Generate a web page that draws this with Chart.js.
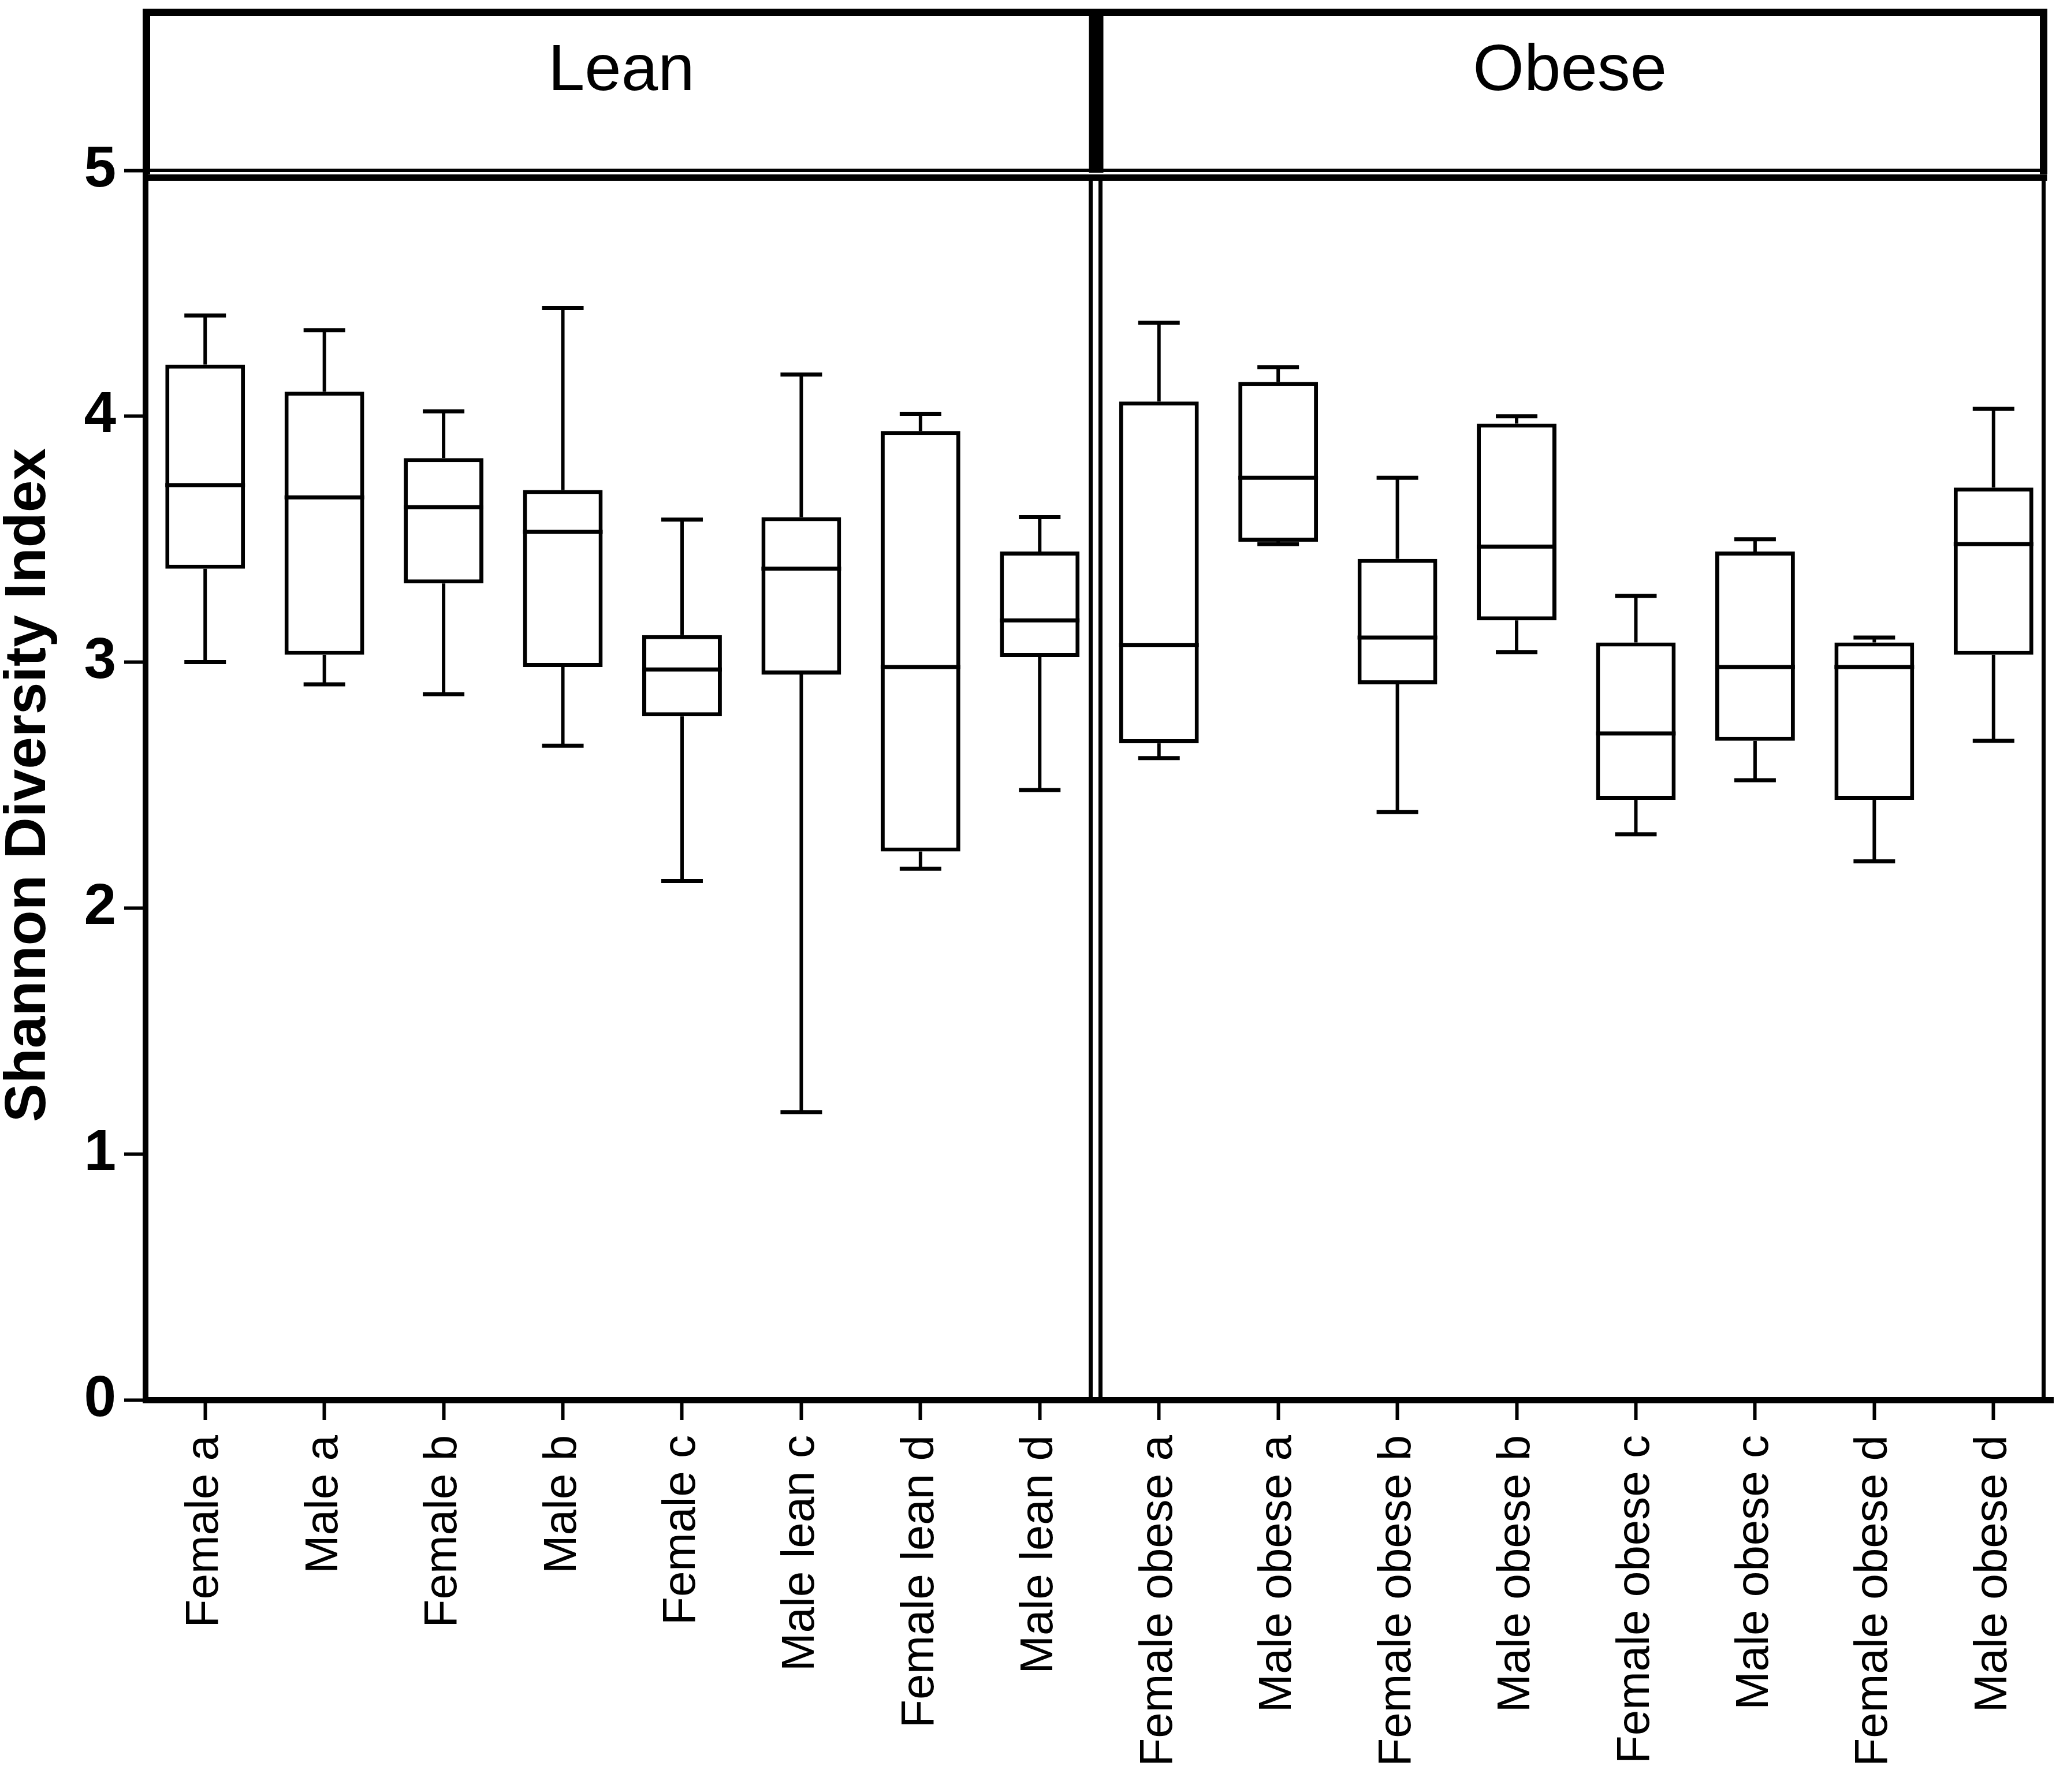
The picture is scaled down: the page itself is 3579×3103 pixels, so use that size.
<!DOCTYPE html>
<html>
<head>
<meta charset="utf-8">
<title>Shannon Diversity Index</title>
<script src="https://cdn.jsdelivr.net/npm/chart.js@4.4.1/dist/chart.umd.min.js"></script>
<style>
  body { margin: 0; background: #fff; }
  #grafica { display: block; }
</style>
</head>
<body>
<canvas id="grafica" width="3579" height="3103"></canvas>
<script>
// datos
const categorias = [
  "Female a", "Male a", "Female b", "Male b", "Female c", "Male lean c", "Female lean d", "Male lean d",
  "Female obese a", "Male obese a", "Female obese b", "Male obese b", "Female obese c", "Male obese c", "Female obese d", "Male obese d"
];
const paneles = ["Lean", "Obese"];
const minimos  = [3.00, 2.91, 2.87, 2.66, 2.11, 1.17, 2.16, 2.48, 2.61, 3.48, 2.39, 3.04, 2.30, 2.52, 2.19, 2.68];
const q1       = [3.38, 3.03, 3.32, 2.98, 2.78, 2.95, 2.23, 3.02, 2.67, 3.49, 2.91, 3.17, 2.44, 2.68, 2.44, 3.03];
const medianas = [3.72, 3.67, 3.63, 3.53, 2.97, 3.38, 2.98, 3.17, 3.07, 3.75, 3.10, 3.47, 2.71, 2.98, 2.98, 3.48];
const q3       = [4.21, 4.10, 3.83, 3.70, 3.11, 3.59, 3.94, 3.45, 4.06, 4.14, 3.42, 3.97, 3.08, 3.45, 3.08, 3.71];
const maximos  = [4.41, 4.35, 4.02, 4.44, 3.58, 4.17, 4.01, 3.59, 4.38, 4.20, 3.75, 4.00, 3.27, 3.50, 3.10, 4.03];
const ticksY = [0, 1, 2, 3, 4, 5];

const fuente = '"Liberation Sans", Arial, sans-serif';

const linea = (ctx, x1, y1, x2, y2, w) => {
  ctx.lineWidth = w;
  ctx.beginPath();
  ctx.moveTo(x1, y1);
  ctx.lineTo(x2, y2);
  ctx.stroke();
};

// bigotes y mediana de cada caja
const bigotes = {
  id: "bigotes",
  afterDatasetsDraw(chart) {
    const { ctx, scales: { x, y } } = chart;
    const meta = chart.getDatasetMeta(0);
    ctx.save();
    ctx.strokeStyle = "#000";
    categorias.forEach((c, i) => {
      const cx = x.getPixelForValue(i);
      const half = meta.data[i].width / 2;
      const cap = 36;
      const yMax = y.getPixelForValue(maximos[i]);
      const yMin = y.getPixelForValue(minimos[i]);
      const yQ1 = y.getPixelForValue(q1[i]);
      const yQ3 = y.getPixelForValue(q3[i]);
      const yMed = y.getPixelForValue(medianas[i]);
      linea(ctx, cx, yQ3, cx, yMax, 6);
      linea(ctx, cx - cap, yMax, cx + cap, yMax, 7);
      linea(ctx, cx, yQ1, cx, yMin, 6);
      linea(ctx, cx - cap, yMin, cx + cap, yMin, 7);
      linea(ctx, cx - half, yMed, cx + half, yMed, 7);
    });
    ctx.restore();
  }
};

// cabeceras Lean / Obese y marco del panel
const marcos = {
  id: "marcos",
  afterDraw(chart) {
    const { ctx, chartArea } = chart;
    const izq = chartArea.left + 1.5;
    const der = chartArea.right - 16.5;
    const div = 1898;
    const arriba = 21.5;
    const top = chartArea.top;
    const bottom = chartArea.bottom;
    ctx.save();
    ctx.strokeStyle = "#000";
    ctx.lineCap = "square";
    // cabecera
    linea(ctx, izq, arriba, der, arriba, 13);
    linea(ctx, izq, arriba, izq, top, 13);
    linea(ctx, der, arriba, der, top, 13);
    ctx.lineCap = "butt";
    linea(ctx, div, arriba - 6, div, top + 4, 25);
    linea(ctx, izq, top, der + 6, top, 6);
    // borde superior del area de datos
    linea(ctx, chartArea.left - 3, top + 12.5, der + 6, top + 12.5, 11);
    // separacion entre paneles
    linea(ctx, div - 9.5, top + 7, div - 9.5, bottom, 7);
    linea(ctx, div + 7.5, top + 7, div + 7.5, bottom, 7);
    linea(ctx, der, top + 7, der, bottom, 7);
    // textos
    ctx.fillStyle = "#000";
    ctx.font = `114px ${fuente}`;
    ctx.textAlign = "center";
    ctx.textBaseline = "alphabetic";
    ctx.fillText(paneles[0], (izq + div) / 2, 156);
    ctx.fillText(paneles[1], (div + der) / 2, 156);
    ctx.restore();
  }
};

new Chart(document.getElementById("grafica"), {
  type: "bar",
  data: {
    labels: categorias,
    datasets: [
      {
        label: "Shannon",
        data: categorias.map((c, i) => [q1[i], q3[i]]),
        backgroundColor: "#fff",
        borderColor: "#000",
        borderWidth: 7,
        borderSkipped: false,
        categoryPercentage: 1,
        barPercentage: 0.668,
      },
    ],
  },
  options: {
    responsive: false,
    devicePixelRatio: 1,
    animation: false,
    layout: { padding: { left: 0, right: 24, top: 295, bottom: 0 } },
    plugins: {
      legend: { display: false },
      tooltip: { enabled: false },
    },
    scales: {
      x: {
        afterFit: (scale) => { scale.height = 679; },
        grid: {
          offset: false,
          drawOnChartArea: false,
          tickLength: 35,
          tickWidth: 6,
          tickColor: "#000",
        },
        border: { display: true, width: 11, color: "#000" },
        ticks: {
          autoSkip: false,
          minRotation: 90,
          maxRotation: 90,
          padding: 26,
          color: "#000",
          font: { family: fuente, size: 80 },
        },
      },
      y: {
        min: 0,
        max: 5,
        afterFit: (scale) => { scale.width = 252; },
        afterBuildTicks: (scale) => { scale.ticks = ticksY.map((v) => ({ value: v })); },
        grid: {
          drawOnChartArea: false,
          tickLength: 37,
          tickWidth: 6,
          tickColor: "#000",
        },
        border: { display: true, width: 10, color: "#000" },
        ticks: {
          padding: 14,
          color: "#000",
          font: { family: fuente, size: 100, weight: "bold" },
        },
        title: {
          display: true,
          text: "Shannon Diversity Index",
          color: "#000",
          padding: 0,
          font: { family: fuente, size: 100, weight: "bold", lineHeight: 1 },
        },
      },
    },
  },
  plugins: [bigotes, marcos],
});
</script>
</body>
</html>
